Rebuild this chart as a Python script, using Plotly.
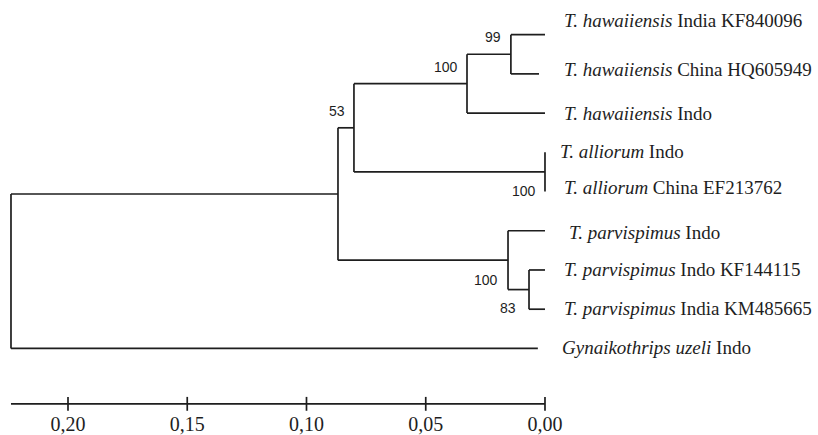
import plotly.graph_objects as go

# ---------------- data ----------------
taxon_italic = ["T. hawaiiensis", "T. hawaiiensis", "T. hawaiiensis",
                "T. alliorum", "T. alliorum",
                "T. parvispimus", "T. parvispimus", "T. parvispimus",
                "Gynaikothrips uzeli"]
taxon_rest = ["India KF840096", "China HQ605949", "Indo",
              "Indo", "China EF213762",
              "Indo", "Indo KF144115", "India KM485665",
              "Indo"]
# distance of each tip from the 0.00 end of the scale
tip_depth = [0.0, 0.0025, 0.0, 0.0, 0.0, 0.0, 0.0, 0.0, 0.003]

node_ids = ["n99", "nHaw", "nAll", "n53", "n83", "nParv", "nIn", "root"]
node_depth = [0.0143, 0.0327, 0.0, 0.0801, 0.0067, 0.0155, 0.0868, 0.2239]
node_children = [["t0", "t1"], ["n99", "t2"], ["t3", "t4"], ["nHaw", "nAll"],
                 ["t6", "t7"], ["t5", "n83"], ["n53", "nParv"], ["nIn", "t8"]]
bootstrap = [99, 100, 100, 53, 83, 100, None, None]

scale_ticks = [0.20, 0.15, 0.10, 0.05, 0.00]
scale_labels = ["0,20", "0,15", "0,10", "0,05", "0,00"]
scale_extent = 0.2239

# ---------------- layout helpers (styling only) ----------------
LINE = "#1e1e1e"
LW = 1.7
label_xshift = [17, 17, 17, 13, 17, 22, 17, 17, 15]     # px
label_yshift = [14, 4, 0, 1, 4, -2, 0, 1, 1]            # px (up)
boot_yshift = {"n99": 17, "nHaw": 17, "n53": 17, "nAll": -19, "nParv": -20, "n83": -18}
boot_xshift = {"n99": -8, "nHaw": -7, "n53": -7, "nAll": -7, "nParv": -8, "n83": -11}

# ---------------- compute tree coordinates ----------------
pos = {}
for i, d in enumerate(tip_depth):
    pos["t%d" % i] = (d, float(i))

node_index = {n: k for k, n in enumerate(node_ids)}


def place(n):
    if n in pos:
        return pos[n]
    k = node_index[n]
    ys = [place(c)[1] for c in node_children[k]]
    pos[n] = (node_depth[k], (min(ys) + max(ys)) / 2.0)
    return pos[n]


for n in node_ids:
    place(n)

xs, ys = [], []
for k, n in enumerate(node_ids):
    nx, ny = pos[n]
    cys = [pos[c][1] for c in node_children[k]]
    xs += [nx, nx, None]
    ys += [min(cys), max(cys), None]
    for c in node_children[k]:
        cx, cy = pos[c]
        xs += [nx, cx, None]
        ys += [cy, cy, None]

fig = go.Figure()
fig.add_trace(go.Scatter(x=xs, y=ys, mode="lines",
                         line=dict(color=LINE, width=LW),
                         hoverinfo="skip", showlegend=False))

# scale bar
axis_y = 9.413
tick_half = 0.177
sx = [scale_extent, 0.0, None]
sy = [axis_y, axis_y, None]
for t in scale_ticks:
    sx += [t, t, None]
    sy += [axis_y - tick_half, axis_y + tick_half, None]
fig.add_trace(go.Scatter(x=sx, y=sy, mode="lines",
                         line=dict(color=LINE, width=LW),
                         hoverinfo="skip", showlegend=False))

annotations = []
for i in range(len(taxon_italic)):
    annotations.append(dict(
        x=0.0, y=float(i), xref="x", yref="y",
        text="<i>%s</i> %s" % (taxon_italic[i], taxon_rest[i]),
        showarrow=False, xanchor="left", yanchor="middle",
        xshift=label_xshift[i], yshift=label_yshift[i],
        font=dict(family="Liberation Serif", size=19, color="#1e1e1e")))

for k, n in enumerate(node_ids):
    if bootstrap[k] is None:
        continue
    nx, ny = pos[n]
    annotations.append(dict(
        x=nx, y=ny, xref="x", yref="y", text=str(bootstrap[k]),
        showarrow=False, xanchor="right", yanchor="middle",
        xshift=boot_xshift[n], yshift=boot_yshift[n],
        font=dict(family="Liberation Sans", size=14, color="#1e1e1e")))

fig.update_layout(
    width=818, height=435,
    margin=dict(l=0, r=0, t=0, b=19),
    paper_bgcolor="white", plot_bgcolor="white",
    annotations=annotations,
    xaxis=dict(range=[0.22851, -0.11447], showgrid=False, zeroline=False,
               showline=False, ticks="", tickvals=scale_ticks,
               ticktext=scale_labels, ticklabelstandoff=-2,
               tickfont=dict(family="Liberation Serif", size=20, color="#1e1e1e")),
    yaxis=dict(range=[9.621, -0.8838], showgrid=False, zeroline=False,
               showline=False, showticklabels=False, ticks=""),
)

fig.write_html("out.html",
               config={"displayModeBar": False},
               post_script="document.body.style.margin='0';"
                           "document.body.style.overflow='hidden';")
